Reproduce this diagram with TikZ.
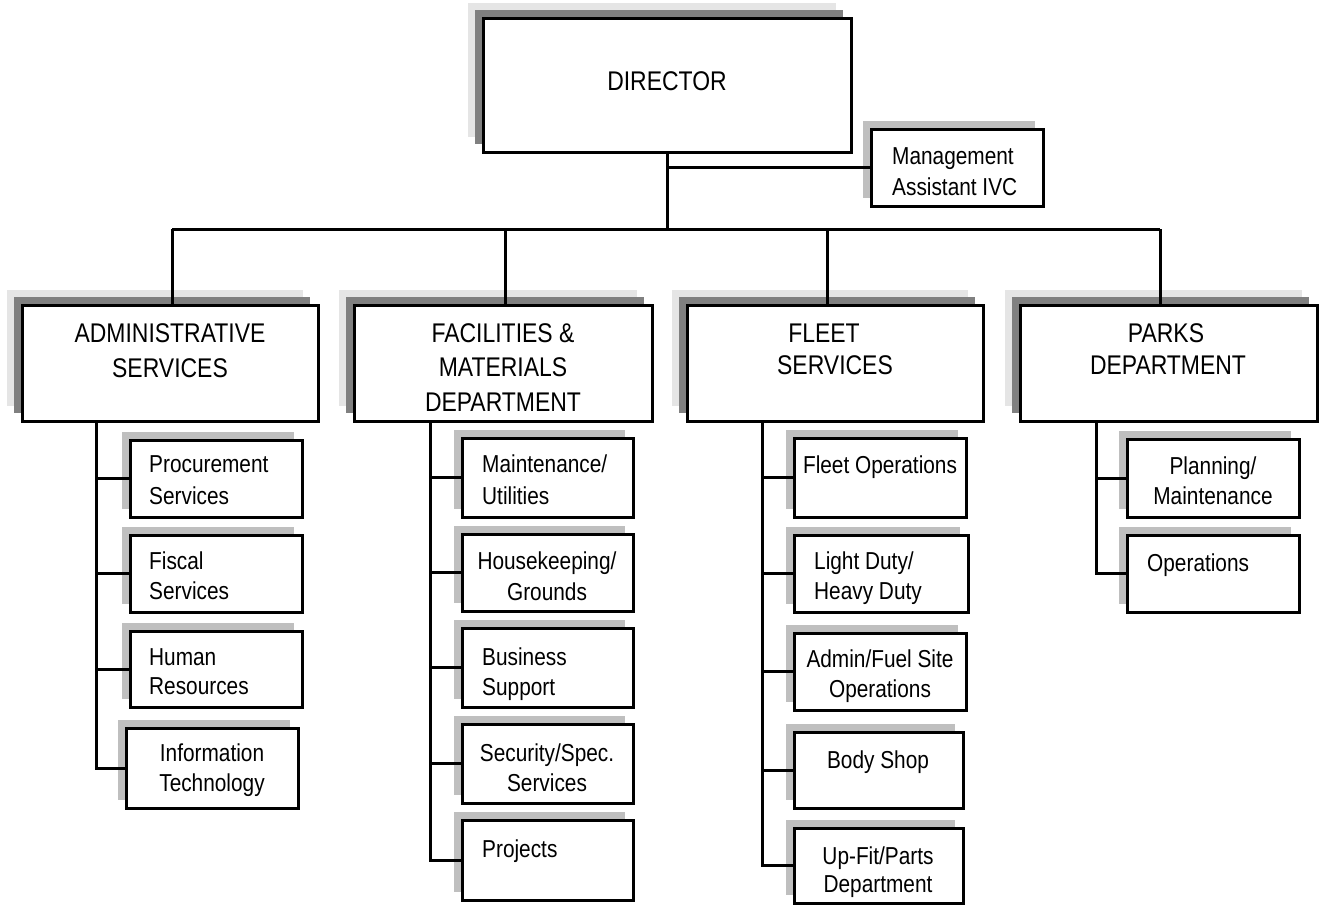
\documentclass[tikz,border=0pt]{standalone}
\usepackage{fontspec}
\setmainfont{Liberation Sans}[FakeStretch=0.85]
\usetikzlibrary{fit}
\tikzset{
 box/.style={draw=black, line width=3pt, fill=white, inner sep=0pt},
 conn/.style={draw=black, line width=3pt},
 lightsh/.style={fill=black!10},
 darksh/.style={fill=black!50},
 subsh/.style={fill=black!25},
 big/.style={font=\fontsize{27}{32}\selectfont, inner sep=0pt},
 small/.style={font=\fontsize{24.5}{30}\selectfont, inner sep=0pt},
}
\newcommand\orgdept[5]{%
 \fill[lightsh] ({#2-15},{#3-15}) rectangle ({#4-15},{#5-15});
 \fill[darksh] ({#2-8},{#3-8}) rectangle ({#4-8},{#5-8});
 \node[box, fit={(#2,#3)(#4,#5)}] (#1) {};}
\newcommand\orgsub[5]{%
 \fill[subsh] ({#2-8},{#3-8}) rectangle ({#4-8},{#5-8});
 \node[box, fit={(#2,#3)(#4,#5)}] (#1) {};}
\begin{document}
\begin{tikzpicture}[x=1pt, y=-1pt]
\useasboundingbox[fill=white] (0,0) rectangle (1323,905);
% top level
\orgdept{dir}{483}{18}{851}{152}
\orgsub{mgmt}{871}{129}{1043}{206}
% departments
\orgdept{adm}{22}{305}{318}{421}
\orgdept{fac}{354}{305}{652}{421}
\orgdept{flt}{687}{305}{983}{421}
\orgdept{prk}{1020}{305}{1317}{421}
% admin subs
\orgsub{proc}{130}{440}{302}{517}
\orgsub{fisc}{130}{535}{302}{612}
\orgsub{hum}{130}{631}{302}{707}
\orgsub{info}{126}{728}{298}{808}
% facilities subs
\orgsub{maint}{462}{438}{633}{517}
\orgsub{house}{462}{534}{633}{611}
\orgsub{busi}{462}{628}{633}{707}
\orgsub{sec}{462}{724}{633}{803}
\orgsub{proj}{462}{820}{633}{900}
% fleet subs
\orgsub{fops}{794}{438}{966}{517}
\orgsub{light}{794}{535}{968}{612}
\orgsub{afuel}{794}{633}{966}{710}
\orgsub{body}{794}{732}{963}{808}
\orgsub{upfit}{794}{828}{963}{903}
% parks subs
\orgsub{plan}{1127}{439}{1299}{517}
\orgsub{ops}{1127}{535}{1299}{612}

% texts
\node[big, anchor=base] (tdir) at (667,90) {DIRECTOR};
\node[small, anchor=base west] (tmg1) at (892,164) {Management};
\node[small, anchor=base west] (tmg2) at (892,195) {Assistant IVC};

\node[big, anchor=base] (tad1) at (170,342) {ADMINISTRATIVE};
\node[big, anchor=base] (tad2) at (170,377) {SERVICES};
\node[big, anchor=base] (tfa1) at (503,342) {FACILITIES \&};
\node[big, anchor=base] (tfa2) at (503,376) {MATERIALS};
\node[big, anchor=base] (tfa3) at (503,411) {DEPARTMENT};
\node[big, anchor=base] (tfl1) at (824,342) {FLEET};
\node[big, anchor=base] (tfl2) at (835,374) {SERVICES};
\node[big, anchor=base] (tpk1) at (1166,342) {PARKS};
\node[big, anchor=base] (tpk2) at (1168,374) {DEPARTMENT};

\node[small, anchor=base west] (tpr1) at (149,472) {Procurement};
\node[small, anchor=base west] (tpr2) at (149,504) {Services};
\node[small, anchor=base west] (tfs1) at (149,569) {Fiscal};
\node[small, anchor=base west] (tfs2) at (149,599) {Services};
\node[small, anchor=base west] (thu1) at (149,665) {Human};
\node[small, anchor=base west] (thu2) at (149,694) {Resources};
\node[small, anchor=base] (tin1) at (212,761) {Information};
\node[small, anchor=base] (tin2) at (212,791) {Technology};

\node[small, anchor=base west] (tma1) at (482,472) {Maintenance/};
\node[small, anchor=base west] (tma2) at (482,504) {Utilities};
\node[small, anchor=base] (tho1) at (547,569) {Housekeeping/};
\node[small, anchor=base] (tho2) at (547,600) {Grounds};
\node[small, anchor=base west] (tbu1) at (482,665) {Business};
\node[small, anchor=base west] (tbu2) at (482,695) {Support};
\node[small, anchor=base] (tse1) at (547,761) {Security/Spec.};
\node[small, anchor=base] (tse2) at (547,791) {Services};
\node[small, anchor=base west] (tpj1) at (482,857) {Projects};

\node[small, anchor=base] (tfo1) at (880,473) {Fleet Operations};
\node[small, anchor=base west] (tld1) at (814,569) {Light Duty/};
\node[small, anchor=base west] (tld2) at (814,599) {Heavy Duty};
\node[small, anchor=base] (taf1) at (880,667) {Admin/Fuel Site};
\node[small, anchor=base] (taf2) at (880,697) {Operations};
\node[small, anchor=base] (tbs1) at (878,768) {Body Shop};
\node[small, anchor=base] (tup1) at (878,864) {Up-Fit/Parts};
\node[small, anchor=base] (tup2) at (878,892) {Department};

\node[small, anchor=base] (tpl1) at (1213,474) {Planning/};
\node[small, anchor=base] (tpl2) at (1213,504) {Maintenance};
\node[small, anchor=base west] (top1) at (1147,571) {Operations};

% connectors
\coordinate (bus) at (667,229);
\coordinate (dA) at (172,229);
\coordinate (dF) at (505,229);
\coordinate (dL) at (827,229);
\coordinate (dP) at (1160,229);
\draw[conn] (dir.south) -- (bus);
\draw[conn] (dir.south |- mgmt.west) -- (mgmt.west);
\draw[conn] (dA) -- (dP);
\draw[conn] (dA) -- (dA |- adm.north);
\draw[conn] (dF) -- (dF |- fac.north);
\draw[conn] (dL) -- (dL |- flt.north);
\draw[conn] (dP) -- (dP |- prk.north);

\coordinate (vA) at (96,421);
\coordinate (vF) at (430,421);
\coordinate (vL) at (762,421);
\coordinate (vP) at (1096,421);
\draw[conn] (vA) |- (info.west);
\draw[conn] (vA |- proc.west) -- (proc.west);
\draw[conn] (vA |- fisc.west) -- (fisc.west);
\draw[conn] (vA |- hum.west) -- (hum.west);

\draw[conn] (vF) |- (proj.west);
\draw[conn] (vF |- maint.west) -- (maint.west);
\draw[conn] (vF |- house.west) -- (house.west);
\draw[conn] (vF |- busi.west) -- (busi.west);
\draw[conn] (vF |- sec.west) -- (sec.west);

\draw[conn] (vL) |- (upfit.west);
\draw[conn] (vL |- fops.west) -- (fops.west);
\draw[conn] (vL |- light.west) -- (light.west);
\draw[conn] (vL |- afuel.west) -- (afuel.west);
\draw[conn] (vL |- body.west) -- (body.west);

\draw[conn] (vP) |- (ops.west);
\draw[conn] (vP |- plan.west) -- (plan.west);
\end{tikzpicture}
\end{document}
